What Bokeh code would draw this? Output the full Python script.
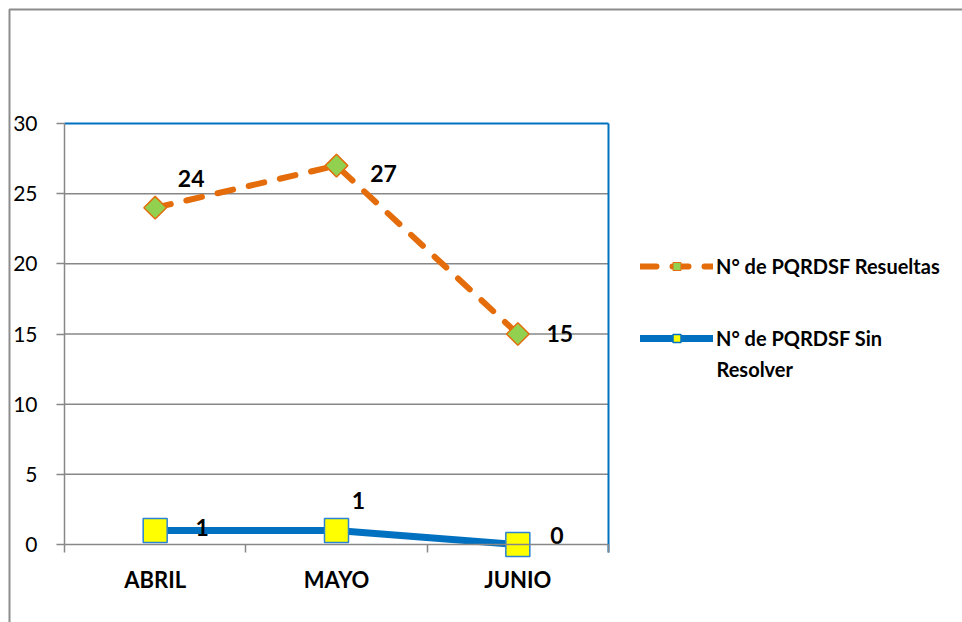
import math
from bokeh.plotting import figure
from bokeh.models import (ColumnDataSource, Range1d, FixedTicker, LinearAxis, Legend,
                          LegendItem, Label, BoxAnnotation)
from bokeh.core.properties import value
from bokeh.embed import file_html
from bokeh.resources import INLINE

# ---- data ----
months = ["ABRIL", "MAYO", "JUNIO"]
resueltas = [24, 27, 15]
sin_resolver = [1, 1, 0]
y_ticks = [0, 5, 10, 15, 20, 25, 30]
series_names = ["N° de PQRDSF Resueltas", "N° de PQRDSF Sin", "Resolver"]

# ---- label nudges (screen px, +y = down) ----
res_dx = [36, 47, 42]
res_dy = [-29, 8, -1]
sin_dx = [47, 22, 39]
sin_dy = [-3, -30, -9]

FONT = "Lato"
ORANGE = "#E46C0A"
GREEN = "#92D050"
BLUE = "#0070C0"
YELLOW = "#FFFF00"
GREY = "#878787"

W, H = 962, 622
# plot-area placement in the canvas (pixels)
PA_L, PA_R, PA_T, PA_B = 64, 608, 123, 544
ncat = len(months)
ymax = y_ticks[-1]
ppx = (PA_R - PA_L) / ncat
ppy = (PA_B - PA_T) / ymax

xpos = [i + 0.5 for i in range(ncat)]

src_res = ColumnDataSource(dict(x=xpos, y=resueltas, t=[str(v) for v in resueltas],
                                dx=res_dx, dy=res_dy))
src_sin = ColumnDataSource(dict(x=xpos, y=sin_resolver, t=[str(v) for v in sin_resolver],
                                dx=sin_dx, dy=sin_dy))

p = figure(width=W, height=H, output_backend="svg", toolbar_location=None,
           x_range=Range1d(-PA_L / ppx, (W - PA_L) / ppx),
           y_range=Range1d(-(H - PA_B) / ppy, ymax + PA_T / ppy),
           x_axis_location=None, y_axis_location=None,
           min_border=0)
p.outline_line_color = None
p.background_fill_color = "white"
p.border_fill_color = "white"
p.xgrid.visible = False
p.ygrid.visible = False

# gridlines (5..25) and blue plot-area border (top & right)
gy = y_ticks[1:-1]
p.segment(x0=[0] * len(gy), x1=[ncat] * len(gy), y0=gy, y1=gy,
          line_color=GREY, line_width=1.5)
p.segment(x0=[0], x1=[ncat], y0=[ymax], y1=[ymax], line_color=BLUE, line_width=2)
p.segment(x0=[ncat], x1=[ncat], y0=[-8 / ppy], y1=[ymax], line_color=BLUE, line_width=2)

# axes
xa = LinearAxis(fixed_location=0, bounds=(0, ncat))
xa.ticker = FixedTicker(ticks=xpos, minor_ticks=list(range(ncat + 1)))
xa.major_label_overrides = {x: m for x, m in zip(xpos, months)}
xa.major_tick_line_color = None
xa.major_tick_out = 0
xa.major_tick_in = 0
xa.minor_tick_line_color = GREY
xa.minor_tick_line_width = 1.5
xa.minor_tick_out = 8
xa.minor_tick_in = 0
xa.axis_line_color = GREY
xa.axis_line_width = 1.5
xa.major_label_text_font = FONT
xa.major_label_text_font_style = "bold"
xa.major_label_text_font_size = "22px"
xa.major_label_text_color = "black"
xa.major_label_standoff = 13
p.add_layout(xa, "below")

ya = LinearAxis(fixed_location=0, bounds=(0, ymax))
ya.ticker = FixedTicker(ticks=y_ticks)
ya.axis_line_color = GREY
ya.axis_line_width = 1.5
ya.major_tick_line_color = GREY
ya.major_tick_line_width = 1.5
ya.major_tick_out = 8
ya.major_tick_in = 0
ya.minor_tick_line_color = None
ya.major_label_text_font = FONT
ya.major_label_text_font_size = "21px"
ya.major_label_text_color = "black"
ya.major_label_standoff = 19
p.add_layout(ya, "left")

# series
p.line("x", "y", source=src_sin, line_color=BLUE, line_width=7)
p.line("x", "y", source=src_res, line_color=ORANGE, line_width=6,
       line_dash="16 16", line_cap="round")
p.scatter("x", "y", source=src_sin, marker="square", size=24, fill_color=YELLOW,
          line_color="#2A82D4", line_width=1.5)
p.scatter("x", "y", source=src_res, marker="square", angle=math.pi / 4, size=16,
          fill_color=GREEN, line_color=ORANGE, line_width=1.5)

for s in (src_res, src_sin):
    p.text("x", "y", text="t", source=s, x_offset="dx", y_offset="dy",
           text_font=value(FONT), text_font_style="bold", text_font_size="23px",
           text_color="black", text_align="center", text_baseline="middle")

# legend-only renderers (no visible points)
nan = float("nan")
e1 = ColumnDataSource(dict(x=[nan], y=[nan]))
lg_l1 = p.line("x", "y", source=e1, line_color=ORANGE, line_width=6,
               line_dash="16 16", line_cap="round")
lg_s1 = p.scatter("x", "y", source=e1, marker="square", angle=math.pi / 4, size=9,
                  fill_color=GREEN, line_color=ORANGE, line_width=1)
lg_l2 = p.line("x", "y", source=e1, line_color=BLUE, line_width=7, line_cap="round")
lg_s2 = p.scatter("x", "y", source=e1, marker="square", size=12, fill_color=YELLOW,
                  line_color=BLUE, line_width=1.5)

legend = Legend(items=[LegendItem(label=series_names[0], renderers=[lg_l1, lg_s1]),
                       LegendItem(label=series_names[1], renderers=[lg_l2, lg_s2])],
                location=(640, H - 350), orientation="vertical",
                glyph_width=73, glyph_height=20, label_height=20, spacing=48,
                padding=0, margin=0, border_line_color=None,
                background_fill_alpha=0, label_standoff=3,
                label_text_font=FONT, label_text_font_style="bold",
                label_text_font_size="20px", label_text_color="black")
p.add_layout(legend)

p.add_layout(Label(x=716, y=368, x_units="canvas", y_units="canvas", text=series_names[2],
                   text_font=FONT, text_font_style="bold", text_font_size="20px",
                   text_color="black", text_baseline="middle"))

# outer chart border
p.add_layout(BoxAnnotation(left=9, right=W + 20, top=9, bottom=H + 20,
                           left_units="canvas", right_units="canvas",
                           top_units="canvas", bottom_units="canvas",
                           fill_alpha=0, line_color="#8C8C8C", line_alpha=1,
                           line_width=2))

open("out.html", "w").write(file_html(p, INLINE))
